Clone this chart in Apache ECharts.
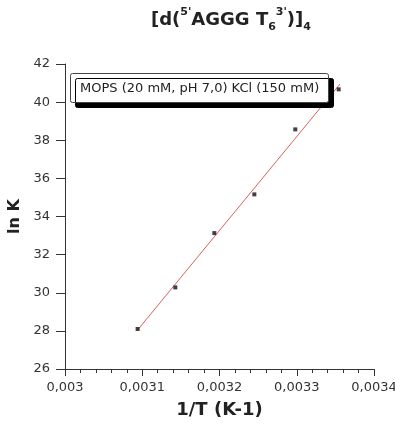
<!DOCTYPE html>
<html><head><meta charset="utf-8">
<script src="https://cdn.jsdelivr.net/npm/echarts@6/dist/echarts.min.js"></script>
<style>html,body{margin:0;padding:0;background:#fff}#c{width:395px;height:425px}</style>
</head><body><div id="c"></div>
<script>
// Data
const invT = [0.003094, 0.0031428, 0.0031933, 0.0032451, 0.0032981, 0.0033543];
const lnK = [28.1, 30.28, 33.13, 35.16, 38.57, 40.67];
const fitX = [0.003094, 0.003356];
const fitY = [28.05, 40.95];
const xTicks = { min: 0.003, max: 0.0034, interval: 0.0001 };
const yTicks = { min: 26, max: 42, interval: 2 };
const legendText = 'MOPS (20 mM, pH 7,0) KCl (150 mM)';

const chart = echarts.init(document.getElementById('c'), null, { renderer: 'canvas' });
const font = 'Verdana, "DejaVu Sans", sans-serif';
chart.setOption({
  animation: false,
  backgroundColor: '#fff',
  title: [{
    text: '{b|[d(}{sup|5\'}{b|AGGG T}{sub|6}{sup|3\'}{b|)]}{sub|4}',
    left: 146, top: 2,
    textStyle: {
      rich: {
        b: { fontFamily: font, fontWeight: 'bold', fontSize: 18, color: '#222', lineHeight: 26, verticalAlign: 'middle' },
        sup: { fontFamily: font, fontSize: 11, color: '#222', lineHeight: 26, verticalAlign: 'top' },
        sub: { fontFamily: font, fontWeight: 'bold', fontSize: 11, color: '#222', lineHeight: 26, verticalAlign: 'bottom' }
      }
    }
  }, {
    text: legendText,
    left: 70, top: 73,
    padding: [8, 10, 7, 10],
    backgroundColor: '#fff',
    borderColor: '#444', borderWidth: 1, borderRadius: 2,
    shadowColor: '#000', shadowBlur: 0, shadowOffsetX: 5, shadowOffsetY: 5,
    textStyle: { fontFamily: font, fontWeight: 'normal', fontSize: 13, lineHeight: 15, color: '#222' }
  }],
  grid: { left: 65, right: 21, top: 64, bottom: 56, containLabel: false, outerBoundsMode: 'none' },
  xAxis: {
    type: 'value', min: xTicks.min, max: xTicks.max, interval: xTicks.interval,
    name: '1/T (K-1)', nameLocation: 'middle', nameGap: 32,
    nameTextStyle: { fontFamily: font, fontWeight: 'bold', fontSize: 18, color: '#222' },
    axisLine: { show: true, lineStyle: { color: '#333', width: 1 } },
    axisTick: { show: true, inside: false, length: 7, lineStyle: { color: '#333' } },
    minorTick: { show: true, splitNumber: 5, length: 4, lineStyle: { color: '#333' } },
    splitLine: { show: false },
    axisLabel: { fontFamily: font, fontSize: 13, color: '#333', margin: 12, hideOverlap: false,
      formatter: v => parseFloat(v.toFixed(5)).toString().replace('.', ',') }
  },
  yAxis: {
    type: 'value', min: yTicks.min, max: yTicks.max, interval: yTicks.interval,
    name: 'ln K', nameLocation: 'middle', nameGap: 36, nameRotate: 90,
    nameTextStyle: { fontFamily: font, fontWeight: 'bold', fontSize: 16, color: '#222' },
    axisLine: { show: true, lineStyle: { color: '#333', width: 1 } },
    axisTick: { show: true, inside: false, length: 9, lineStyle: { color: '#333' } },
    splitLine: { show: false },
    axisLabel: { fontFamily: font, fontSize: 13, color: '#333', margin: 15 }
  },
  series: [{
    type: 'line', data: fitX.map((x, i) => [x, fitY[i]]),
    symbol: 'none', lineStyle: { color: '#d9625e', width: 1 }, z: 2
  }, {
    type: 'scatter', data: invT.map((x, i) => [x, lnK[i]]),
    symbol: 'rect', symbolSize: 4, itemStyle: { color: '#111' }, z: 3
  }]
});
</script></body></html>
